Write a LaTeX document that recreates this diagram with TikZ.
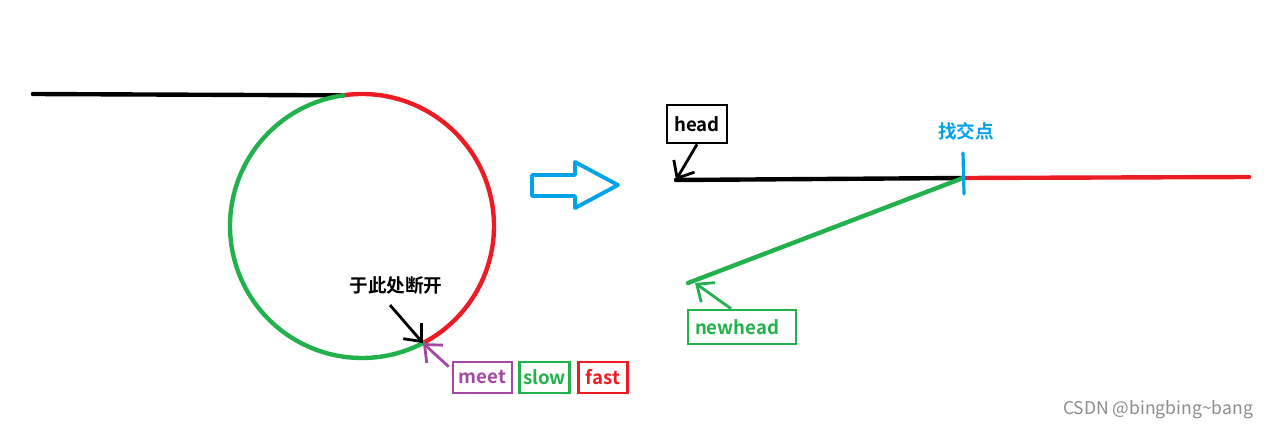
\documentclass[tikz,border=0pt]{standalone}
\usepackage{fontspec}
\setmainfont{Noto Sans CJK SC}[BoldFont={Noto Sans CJK SC Bold}]
\usetikzlibrary{arrows.meta,calc,positioning}
\definecolor{pred}{RGB}{237,28,36}
\definecolor{pgreen}{RGB}{34,177,76}
\definecolor{ppurple}{RGB}{163,73,164}
\definecolor{pblue}{RGB}{0,162,232}

\begin{document}
\begin{tikzpicture}[x=0.02cm,y=-0.02cm,font=\bfseries\fontsize{10.6}{12}\selectfont,node distance=1mm,
  every node/.style={align=center},
  tag/.style={draw,line width=1.5pt,inner xsep=1pt,inner ysep=2pt,minimum height=0.62cm},
  line/.style={line width=2.5pt,line cap=round},
  barb/.style={line width=1.6pt,-{Straight Barb[length=2.8mm,width=4.8mm]}}]
        \useasboundingbox (0,0) rectangle (1270,429);
        % left: list with a loop
        \coordinate (c) at (362,226);
        \coordinate (l0) at (33,94);
        \coordinate (j) at ($(c)+(261.7:132)$);
        \coordinate (m) at ($(c)+(62.5:132)$);
        \draw[line] (l0) -- (j);
        \draw[line,pred] (j) arc[start angle=261.7,end angle=422.5,radius=132];
        \draw[line,pgreen] (j) arc[start angle=261.7,end angle=62.5,radius=132];
        \node (cut) at (396,285) {于此处断开};
        \draw[barb] ([xshift=-1.2mm,yshift=-1mm]cut.south) -- (m);
        \node[tag,ppurple,minimum width=1.18cm] (meet) at (482.5,377.5) {meet};
        \node[tag,pgreen,minimum width=1cm,right=1mm of meet] (slow) {slow};
        \node[tag,pred,minimum width=0.98cm,right=1.2mm of slow] (fast) {fast};
        \draw[barb,ppurple] ([xshift=-0.06cm,yshift=-0.12cm]meet.north west) -- (m);
        % hollow arrow
        \draw[pblue,line width=2.2pt,line join=round] (532,175) -- (575,175) -- (575,162) -- (618,185)
          -- (575,208) -- (575,196) -- (532,196) -- cycle;
        % right: two lists meeting
        \coordinate (h) at (676,180);
        \coordinate (x) at (963,178);
        \coordinate (r1) at (1249,177);
        \coordinate (nh) at (688,283);
        \draw[line] (h) -- (x);
        \draw[line,pred] (x) -- (r1);
        \draw[line,pgreen] (nh) -- (x);
        \draw[pblue,line width=1.8pt,line cap=round] ([yshift=0.5cm]x) -- ([xshift=0.02cm,yshift=-0.32cm]x);
        \node[pblue] (cross) at (966,131) {找交点};
        \node[tag,black,minimum width=1.2cm,minimum height=0.76cm] (head) at (697,124) {head};
        \draw[barb] (head.south) -- (h);
        \node[tag,pgreen,inner xsep=4pt,text width=1.88cm,align=left,minimum height=0.68cm] (newhead) at (742,327) {newhead};
        \draw[barb,pgreen] ([xshift=-0.22cm]newhead.north) -- ([xshift=0.14cm]nh);
        \node[font=\fontsize{10}{12}\selectfont,text=black!45] (csdn) at (1158,410) {CSDN @bingbing\string~bang};
      \end{tikzpicture}
\end{document}
